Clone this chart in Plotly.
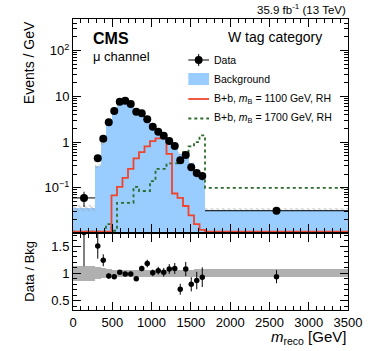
import plotly.graph_objects as go

# ---------------- data ----------------
bin_edges = [0, 280, 350, 420, 490, 560, 630, 700, 770, 840, 910, 980, 1050,
             1120, 1190, 1260, 1330, 1400, 1470, 1540, 1610, 1680, 3500]

data_vals = [0.060, 0.44, 1.18, 2.7, 4.8, 7.6, 7.95, 6.75, 4.6, 4.27, 3.16,
             2.17, 1.68, 1.37, 1.05, 0.82, 0.40, 0.52, 0.28, 0.21, 0.18, 0.0315]
data_errs = [0.022, 0.07, 0.10, 0.12, 0.17, 0.2, 0.2, 0.19, 0.15, 0.15, 0.13,
             0.11, 0.10, 0.09, 0.08, 0.07, 0.05, 0.06, 0.045, 0.04, 0.035, 0.004]

bkg_vals = [0.036, 0.30, 0.95, 2.85, 5.1, 7.45, 8.0, 6.8, 5.1, 3.9, 2.68,
            2.15, 1.6, 1.34, 0.97, 0.75, 0.56, 0.48, 0.35, 0.24, 0.19, 0.0335]
bkg_rel_unc = [0.14, 0.11, 0.09, 0.075, 0.07, 0.065, 0.06, 0.06, 0.06, 0.06, 0.06,
               0.06, 0.06, 0.06, 0.06, 0.06, 0.065, 0.07, 0.07, 0.075, 0.075, 0.075]

sig1100_vals = [0.011, 0.011, 0.011, 0.011, 0.068, 0.105, 0.165, 0.26, 0.44, 0.6, 0.8,
                1.05, 1.2, 1.25, 0.55, 0.075, 0.06, 0.04, 0.025, 0.016, 0.012, 0.011]
sig1700_vals = [0.011, 0.011, 0.011, 0.016, 0.0115, 0.047, 0.047, 0.047, 0.105, 0.085, 0.085,
                0.14, 0.26, 0.26, 0.34, 0.34, 0.36, 0.6, 0.8, 1.0, 1.4, 0.10]

ratio_vals = [1.75, 1.50, 1.24, 0.95, 0.94, 1.02, 0.99, 0.99, 0.90, 1.09, 1.18,
              1.01, 1.05, 1.02, 1.08, 1.09, 0.71, 1.08, 0.80, 0.87, 0.93, 0.94]
ratio_errs = [0.62, 0.23, 0.11, 0.05, 0.04, 0.04, 0.04, 0.04, 0.04, 0.05, 0.07,
              0.06, 0.07, 0.08, 0.09, 0.10, 0.10, 0.13, 0.13, 0.16, 0.18, 0.12]

y_ticks_top = [0.1, 1, 10, 100]
y_ticktext_top = ["10<sup>\u22121</sup>", "1", "10", "10<sup>2</sup>"]
x_ticks = [0, 500, 1000, 1500, 2000, 2500, 3000, 3500]
ratio_ticks = [0.5, 1, 1.5]
ratio_ticktext = ["0.5", "1", "1.5"]

# ---------------- derived geometry via library ----------------
centers = [(a + b) / 2 for a, b in zip(bin_edges[:-1], bin_edges[1:])]
widths = [b - a for a, b in zip(bin_edges[:-1], bin_edges[1:])]
halfw = [w / 2 for w in widths]

BLUE = "#99ccff"
RED = "#f0452c"
GREEN = "#2c6b2c"
FONT = "Liberation Sans"

fig = go.Figure()

fig.add_trace(go.Bar(x=centers, y=bkg_vals, width=widths, marker=dict(color=BLUE, line=dict(width=0)),
                     xaxis="x", yaxis="y", showlegend=False))
fig.add_trace(go.Bar(x=centers, y=[2 * u * b for u, b in zip(bkg_rel_unc, bkg_vals)],
                     base=[b * (1 - u) for u, b in zip(bkg_rel_unc, bkg_vals)], width=widths,
                     marker=dict(color="rgba(0,0,0,0)", line=dict(width=0),
                                 pattern=dict(shape="\\", fgcolor="#9a9a9a", bgcolor="rgba(0,0,0,0)",
                                              size=4, solidity=0.35)),
                     xaxis="x", yaxis="y", showlegend=False))
fig.add_trace(go.Scatter(x=bin_edges, y=sig1700_vals + [sig1700_vals[-1]], mode="lines",
                         line=dict(color=GREEN, width=1.8, dash="dot", shape="hv"),
                         xaxis="x", yaxis="y", showlegend=False))
fig.add_trace(go.Scatter(x=bin_edges, y=sig1100_vals + [sig1100_vals[-1]], mode="lines",
                         line=dict(color=RED, width=1.8, shape="hv"),
                         xaxis="x", yaxis="y", showlegend=False))
fig.add_trace(go.Scatter(x=centers, y=data_vals, mode="markers",
                         marker=dict(color="black", size=8),
                         error_y=dict(type="data", array=data_errs, color="black", thickness=1, width=0),
                         error_x=dict(type="data", array=halfw, color="black", thickness=1, width=0),
                         xaxis="x", yaxis="y", showlegend=False))

fig.add_trace(go.Bar(x=centers, y=[2 * u for u in bkg_rel_unc], base=[1 - u for u in bkg_rel_unc],
                     width=widths, marker=dict(color="#b0b0b0", line=dict(width=0)),
                     xaxis="x2", yaxis="y2", showlegend=False))
fig.add_trace(go.Scatter(x=centers, y=ratio_vals, mode="markers",
                         marker=dict(color="black", size=5.5),
                         error_y=dict(type="data", array=ratio_errs, color="black", thickness=1, width=0),
                         xaxis="x2", yaxis="y2", showlegend=False))

axis_common = dict(showline=True, linecolor="black", linewidth=1, mirror="allticks",
                   ticks="inside", tickcolor="black", showgrid=False, zeroline=False,
                   tickfont=dict(family=FONT, size=13, color="black"))

minor_log = [m * 10 ** e for e in range(-2, 3) for m in range(2, 10)]

fig.update_layout(
    width=374, height=351,
    margin=dict(l=73, r=22, t=19, b=41),
    paper_bgcolor="white", plot_bgcolor="white",
    barmode="overlay", bargap=0,
    font=dict(family=FONT, color="black"),
    xaxis=dict(domain=[0, 1], anchor="y", range=[0, 3500], tickvals=x_ticks, showticklabels=False,
               ticklen=8, minor=dict(ticks="inside", ticklen=4, dtick=100, tickcolor="black"),
               **axis_common),
    yaxis=dict(domain=[0.268, 1], anchor="x", type="log", range=[-1.967, 2.69],
               tickvals=y_ticks_top, ticktext=y_ticktext_top, ticklen=8,
               minor=dict(ticks="inside", ticklen=4, tickvals=minor_log, tickcolor="black"),
               **axis_common),
    xaxis2=dict(domain=[0, 1], anchor="y2", range=[0, 3500], tickvals=x_ticks, ticklen=8,
                minor=dict(ticks="inside", ticklen=4, dtick=100, tickcolor="black"),
                **axis_common),
    yaxis2=dict(domain=[0, 0.261], anchor="x2", range=[0.33, 1.72], tickvals=ratio_ticks,
                ticktext=ratio_ticktext, ticklen=8,
                minor=dict(ticks="inside", ticklen=4, dtick=0.1, tickcolor="black"),
                **axis_common),
)

L, R, T, B = 73, 352, 19, 310
def px(x):
    return (x - L) / (R - L)
def py(y):
    return (B - y) / (B - T)

ann = []
ann.append(dict(x=1, y=py(9), xref="paper", yref="paper", xanchor="right", yanchor="middle",
                text="35.9 fb<sup>-1</sup> (13 TeV)", showarrow=False, font=dict(size=11.5)))
ann.append(dict(x=px(91), y=py(39), xref="paper", yref="paper", xanchor="left", yanchor="middle",
                text="<b>CMS</b>", showarrow=False, font=dict(size=16)))
ann.append(dict(x=px(91), y=py(57), xref="paper", yref="paper", xanchor="left", yanchor="middle",
                text="\u03bc channel", showarrow=False, font=dict(size=13)))
ann.append(dict(x=px(278), y=py(37), xref="paper", yref="paper", xanchor="center", yanchor="middle",
                text="W tag category", showarrow=False, font=dict(size=14)))
ann.append(dict(x=1, y=py(337.5), xref="paper", yref="paper", xanchor="right", yanchor="middle",
                text="<i>m</i><sub>reco</sub> [GeV]", showarrow=False, font=dict(size=15)))
ann.append(dict(x=px(28), y=1, xref="paper", yref="paper", xanchor="center", yanchor="top",
                text="Events / GeV", textangle=-90, showarrow=False, font=dict(size=14)))
ann.append(dict(x=px(28), y=py(271), xref="paper", yref="paper", xanchor="center", yanchor="middle",
                text="Data / Bkg", textangle=-90, showarrow=False, font=dict(size=13)))

leg_font = dict(size=10.5)
leg_items = [(60, "Data"), (79, "Background"),
             (99, "B+b, <i>m</i><sub>B</sub> = 1100 GeV, RH"),
             (118, "B+b, <i>m</i><sub>B</sub> = 1700 GeV, RH")]
for yy, txt in leg_items:
    ann.append(dict(x=px(214), y=py(yy), xref="paper", yref="paper", xanchor="left", yanchor="middle",
                    text=txt, showarrow=False, font=leg_font))
fig.update_layout(annotations=ann)

shapes = []
shapes.append(dict(type="line", xref="paper", yref="paper", x0=px(190), x1=px(211), y0=py(60), y1=py(60),
                   line=dict(color="black", width=1)))
shapes.append(dict(type="line", xref="paper", yref="paper", x0=px(200.5), x1=px(200.5), y0=py(54), y1=py(66),
                   line=dict(color="black", width=1)))
shapes.append(dict(type="circle", xref="paper", yref="paper", x0=px(196.5), x1=px(204.5), y0=py(56), y1=py(64),
                   fillcolor="black", line=dict(color="black", width=0)))
shapes.append(dict(type="rect", xref="paper", yref="paper", x0=px(190), x1=px(211), y0=py(73), y1=py(85),
                   fillcolor=BLUE, line=dict(width=0)))
shapes.append(dict(type="line", xref="paper", yref="paper", x0=px(190), x1=px(211), y0=py(99), y1=py(99),
                   line=dict(color=RED, width=1.8)))
shapes.append(dict(type="line", xref="paper", yref="paper", x0=px(190), x1=px(211), y0=py(118.5), y1=py(118.5),
                   line=dict(color=GREEN, width=1.8, dash="dot")))
fig.update_layout(shapes=shapes)

fig.write_html("out.html", config={"displayModeBar": False},
               post_script="document.body.style.margin='0';document.body.style.padding='0';")
